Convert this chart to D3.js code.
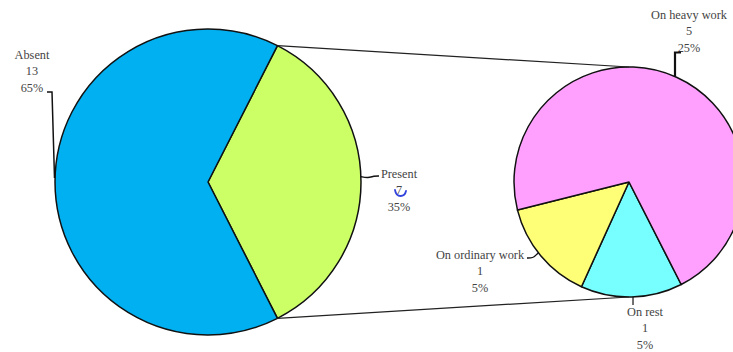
<!DOCTYPE html>
<html>
<head>
<meta charset="utf-8">
<script src="https://cdn.jsdelivr.net/npm/d3@7"></script>
<style>
  html, body { margin: 0; padding: 0; background: #fff; }
  svg text { font-family: "Liberation Serif", "Times New Roman", serif; font-size: 12.3px; fill: #444; }
</style>
</head>
<body>
<svg id="chart" width="733" height="352"></svg>
<script>
// Main pie: attendance
const mainCategories = ["Present", "Absent"];
const mainCounts = [7, 13];
const mainPercents = ["35%", "65%"];
const mainColors = ["#ccff66", "#00b0f0"];

// Breakdown of the "Present" slice
const subCategories = ["On rest", "On ordinary work", "On heavy work"];
const subCounts = [1, 1, 5];
const subPercents = ["5%", "5%", "25%"];
const subColors = ["#77ffff", "#ffff77", "#ffa0ff"];

const svg = d3.select("#chart");
const deg = Math.PI / 180;

const main = { cx: 208, cy: 182, r: 153 };
const sub = { cx: 629, cy: 182, r: 115 };

// Present slice is centred on the right-hand side (3 o'clock)
const presentSpan = 360 * mainCounts[0] / d3.sum(mainCounts);
const mainStart = (90 - presentSpan / 2) * deg;
const mainPie = d3.pie().sort(null).value(d => d.v)
  .startAngle(mainStart).endAngle(mainStart + 2 * Math.PI);
const mainArcs = mainPie(mainCategories.map((c, i) => ({ c, v: mainCounts[i], col: mainColors[i] })));

const subStart = 153 * deg;
const subPie = d3.pie().sort(null).value(d => d.v)
  .startAngle(subStart).endAngle(subStart + 2 * Math.PI);
const subArcs = subPie(subCategories.map((c, i) => ({ c, v: subCounts[i], col: subColors[i] })));

const mainArc = d3.arc().innerRadius(0).outerRadius(main.r);
const subArc = d3.arc().innerRadius(0).outerRadius(sub.r);

const gMain = svg.append("g").attr("transform", `translate(${main.cx},${main.cy})`);
gMain.selectAll("path").data(mainArcs).join("path")
  .attr("d", mainArc)
  .attr("fill", d => d.data.col)
  .attr("stroke", "#111")
  .attr("stroke-width", 1.5)
  .attr("stroke-linejoin", "round");

const gSub = svg.append("g").attr("transform", `translate(${sub.cx},${sub.cy})`);
gSub.selectAll("path").data(subArcs).join("path")
  .attr("d", subArc)
  .attr("fill", d => d.data.col)
  .attr("stroke", "#111")
  .attr("stroke-width", 1.5)
  .attr("stroke-linejoin", "round");

// point on a circle for a d3 angle (0 = 12 o'clock, clockwise)
function pt(c, a, r) {
  return [c.cx + (r ?? c.r) * Math.sin(a), c.cy - (r ?? c.r) * Math.cos(a)];
}

// connectors from the Present slice to the breakdown pie
const pres = mainArcs[0];
const connectors = [
  [pt(main, pres.startAngle), pt(sub, 0)],
  [pt(main, pres.endAngle), pt(sub, Math.PI)]
];
svg.selectAll("line.conn").data(connectors).join("line")
  .attr("class", "conn")
  .attr("x1", d => d[0][0]).attr("y1", d => d[0][1])
  .attr("x2", d => d[1][0]).attr("y2", d => d[1][1])
  .attr("stroke", "#222").attr("stroke-width", 1.2);

// labels
function label(x, y, lines) {
  const t = svg.append("text").attr("text-anchor", "middle");
  lines.forEach((s, i) => t.append("tspan").attr("x", x).attr("y", y + i * 16.3).text(s));
  return t;
}
const leader = (pts, w) => svg.append("path")
  .attr("d", d3.line().curve(d3.curveLinear)(pts))
  .attr("fill", "none").attr("stroke", "#111").attr("stroke-width", w || 1.5);

// Absent
label(32, 59, [mainCategories[1], String(mainCounts[1]), mainPercents[1]]);
const absPt = pt(main, -90 * deg);
leader([[47, 92], [52, 92], [absPt[0] - 0.5, absPt[1] - 4]]);

// Present
const prPt = pt(main, 88 * deg);
label(399, 178, [mainCategories[0], String(mainCounts[0]), mainPercents[0]]);
svg.append("path")
  .attr("d", d3.line().curve(d3.curveBasis)([[prPt[0], prPt[1]], [368, 178], [374, 176], [379, 176]]))
  .attr("fill", "none").attr("stroke", "#111").attr("stroke-width", 1.5);
// blue pen mark under the count
svg.append("path")
  .attr("d", "M395,190 Q396,196 400.5,196 Q405,196 406,191")
  .attr("fill", "none").attr("stroke", "#3344dd").attr("stroke-width", 1.8)
  .attr("stroke-linecap", "round");

// On heavy work
const hvX = 675;
const hvPt = [hvX, sub.cy - Math.sqrt(sub.r * sub.r - (hvX - sub.cx) ** 2)];
label(689, 19, [subCategories[2], String(subCounts[2]), subPercents[2]]);
leader([[681, 52.5], [hvX, 52.5], hvPt], 2.2);

// On ordinary work
const orPt = pt(sub, 232 * deg);
label(480, 259, [subCategories[1], String(subCounts[1]), subPercents[1]]);
svg.append("path")
  .attr("d", d3.line().curve(d3.curveBasis)([[527, 258], [533, 258], [536, 255], [orPt[0], orPt[1]]]))
  .attr("fill", "none").attr("stroke", "#111").attr("stroke-width", 1.3);

// On rest
const rsPt = pt(sub, 178 * deg);
label(645, 316, [subCategories[0], String(subCounts[0]), subPercents[0]]);
leader([[rsPt[0], rsPt[1]], [rsPt[0], rsPt[1] + 8]], 1.2);
</script>
</body>
</html>
